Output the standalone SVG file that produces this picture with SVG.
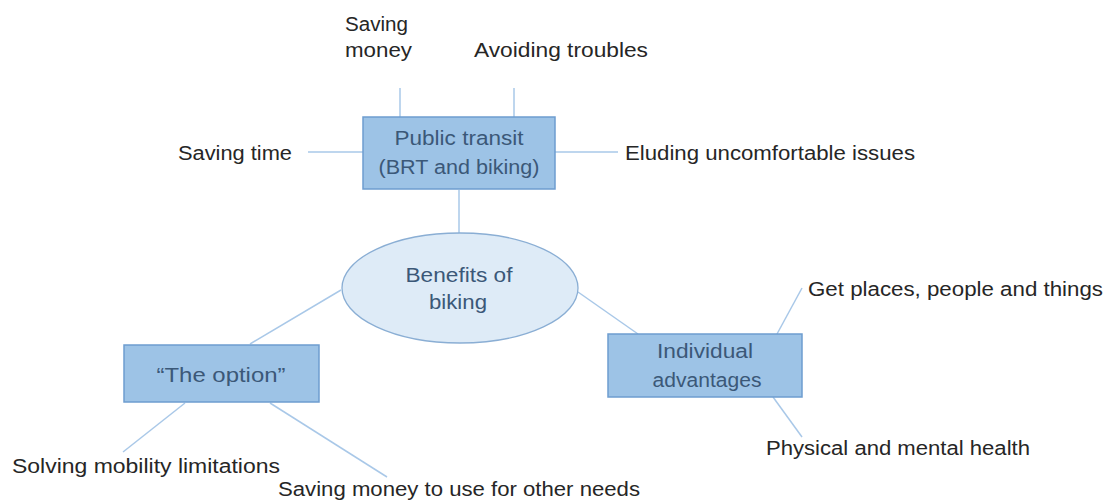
<svg xmlns="http://www.w3.org/2000/svg" width="1108" height="500" viewBox="0 0 1108 500">
<style>
.bg{fill:#ffffff}
.box{fill:#9dc3e6;stroke:#6e9dcf;stroke-width:1.5}
.ell{fill:#deebf7;stroke:#8aaed4;stroke-width:1.3}
.con{stroke:#a9c8e8;stroke-width:1.5;fill:none}
.nt{font-family:"Liberation Sans",Arial,sans-serif;font-size:20px;fill:#3b5878;text-anchor:middle}
.lt{font-family:"Liberation Sans",Arial,sans-serif;font-size:20px;fill:#262626}
</style>
<rect class="bg" x="0" y="0" width="1108" height="500"/>
<g id="connectors">
<line class="con" x1="400" y1="88" x2="400" y2="117"/>
<line class="con" x1="514" y1="88" x2="514" y2="117"/>
<line class="con" x1="308" y1="152" x2="363" y2="152"/>
<line class="con" x1="555" y1="152" x2="618" y2="152"/>
<line class="con" x1="459" y1="190" x2="459" y2="233"/>
<line class="con" x1="341" y1="290" x2="250" y2="344"/>
<line class="con" x1="578" y1="292" x2="638" y2="334"/>
<line class="con" x1="185" y1="403" x2="123" y2="452"/>
<line class="con" x1="270" y1="403" x2="387" y2="477"/>
<line class="con" x1="777" y1="334" x2="802" y2="288"/>
<line class="con" x1="773" y1="397" x2="802" y2="437"/>
</g>
<g id="public-transit">
<rect class="box" x="363" y="117" width="192" height="72"/>
<text class="nt" x="459" y="145" textLength="129" lengthAdjust="spacingAndGlyphs">Public transit</text>
<text class="nt" x="459" y="174" textLength="161" lengthAdjust="spacingAndGlyphs">(BRT and biking)</text>
</g>
<g id="benefits">
<ellipse class="ell" cx="460" cy="288" rx="118" ry="55"/>
<text class="nt" x="459" y="282" textLength="107" lengthAdjust="spacingAndGlyphs">Benefits of</text>
<text class="nt" x="458" y="309" textLength="58" lengthAdjust="spacingAndGlyphs">biking</text>
</g>
<g id="the-option">
<rect class="box" x="124" y="345" width="195" height="57"/>
<text class="nt" x="221" y="382" textLength="129" lengthAdjust="spacingAndGlyphs">“The option”</text>
</g>
<g id="individual">
<rect class="box" x="608" y="334" width="194" height="63"/>
<text class="nt" x="705" y="358" textLength="96" lengthAdjust="spacingAndGlyphs">Individual</text>
<text class="nt" x="707" y="387" textLength="109" lengthAdjust="spacingAndGlyphs">advantages</text>
</g>
<g id="saving-money">
<text class="lt" x="345" y="31" textLength="63" lengthAdjust="spacingAndGlyphs">Saving</text>
<text class="lt" x="345" y="57" textLength="67" lengthAdjust="spacingAndGlyphs">money</text>
</g>
<g id="avoiding-troubles">
<text class="lt" x="474" y="57" textLength="174" lengthAdjust="spacingAndGlyphs">Avoiding troubles</text>
</g>
<g id="saving-time">
<text class="lt" x="178" y="160" textLength="114" lengthAdjust="spacingAndGlyphs">Saving time</text>
</g>
<g id="eluding">
<text class="lt" x="625" y="160" textLength="290" lengthAdjust="spacingAndGlyphs">Eluding uncomfortable issues</text>
</g>
<g id="get-places">
<text class="lt" x="808" y="296" textLength="295" lengthAdjust="spacingAndGlyphs">Get places, people and things</text>
</g>
<g id="physical">
<text class="lt" x="766" y="455" textLength="264" lengthAdjust="spacingAndGlyphs">Physical and mental health</text>
</g>
<g id="solving">
<text class="lt" x="12" y="473" textLength="268" lengthAdjust="spacingAndGlyphs">Solving mobility limitations</text>
</g>
<g id="saving-money-needs">
<text class="lt" x="278" y="496" textLength="362" lengthAdjust="spacingAndGlyphs">Saving money to use for other needs</text>
</g>
</svg>
